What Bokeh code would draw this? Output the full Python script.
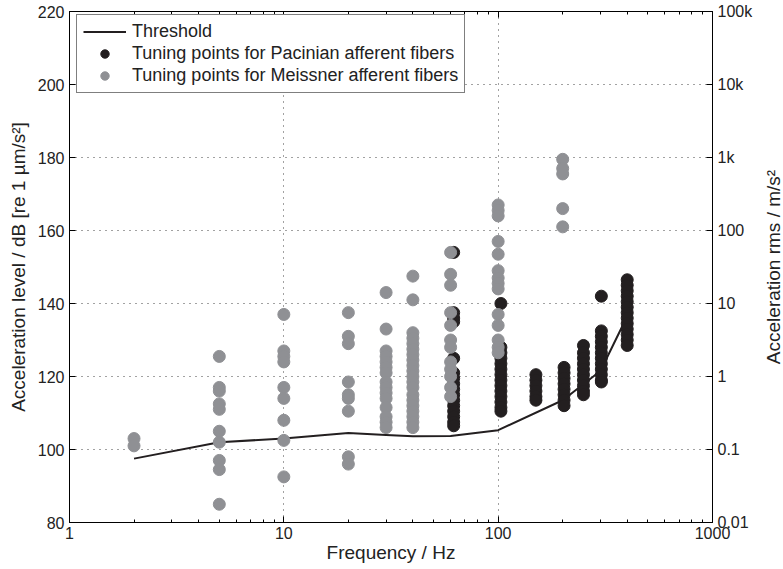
from bokeh.plotting import figure
from bokeh.layouts import row
from bokeh.models import (LogAxis, LinearAxis, FixedTicker, Legend, LegendItem,
                          Range1d)
from bokeh.embed import file_html
from bokeh.resources import INLINE

# ---------------- data ----------------
threshold_freq = [2, 5, 10, 20, 30, 40, 60, 100, 200, 300, 400]
threshold_level = [97.5, 102, 103, 104.5, 104, 103.6, 103.7, 105.3, 113.5, 121.5, 136.5]

meissner_columns = [2, 5, 10, 20, 30, 40, 60, 100, 200]
meissner_levels = [
    [103, 101],
    [125.5, 117, 116, 112.5, 111, 105, 102, 97, 94.5, 85],
    [137, 127, 125.5, 124, 117, 114, 108, 102.5, 92.5],
    [137.5, 131, 129, 118.5, 115, 114, 110.5, 98, 96],
    [143, 133, 127, 125.5, 124, 122.5, 121, 118.5, 117, 115.5, 114, 111.5, 109, 107.5, 106],
    [147.5, 141, 132, 130.5, 129, 127.5, 126, 124.5, 123, 121.5, 120, 118.5, 117, 115,
     113.5, 112, 110.5, 109, 107.5, 106],
    [154, 148, 145, 137.5, 134, 130, 128, 124, 122, 120, 117, 114.5],
    [167, 165.5, 164, 157, 153.5, 149, 147, 145.5, 144, 137, 134, 130, 128, 126.5],
    [179.5, 177, 175.5, 166, 161],
]

pacinian_columns = [62, 103, 150, 203, 250, 303, 400]
pacinian_levels = [
    [154, 137.5, 136, 135, 125, 121, 119.5, 118, 116.5, 115, 113.5, 112, 110.5, 109, 107.5, 106.5],
    [140, 128, 126.5, 125, 123.5, 122, 120.5, 119, 117.5, 116, 114.5, 113, 111.5, 110.5],
    [120.5, 119, 117.5, 116, 114.5, 113.5],
    [122.5, 121, 119.5, 118, 116.5, 115, 113.5, 112],
    [128.5, 126.5, 125, 123.5, 122, 120.5, 119, 117.5, 116, 115],
    [142, 132.5, 131, 129.5, 128, 126.5, 125, 123.5, 122, 120.5, 119, 118.5],
    [146.5, 145, 143.5, 142, 140.5, 139, 137.5, 136, 134.5, 133, 131.5, 130, 128.5],
]

x_ticks = [1, 10, 100, 1000]
x_tick_labels = ["1", "10", "100", "1000"]
y_ticks = [80, 100, 120, 140, 160, 180, 200, 220]
y_right_labels = ["0.01", "0.1", "1", "10", "100", "1k", "10k", "100k"]

# ---------------- build ----------------
def flatten(cols, levels):
    xs, ys = [], []
    for f, lv in zip(cols, levels):
        for v in lv:
            xs.append(f)
            ys.append(v)
    return xs, ys

mx, my = flatten(meissner_columns, meissner_levels)
px, py = flatten(pacinian_columns, pacinian_levels)

FONT = "Liberation Sans"
BLACK = "#231f20"
GRAY = "#8f9094"
TXT = "#222222"

p = figure(frame_width=643, frame_height=511, x_axis_type="log",
           x_range=Range1d(1, 1000), y_range=Range1d(80, 220),
           output_backend="svg", toolbar_location=None,
           min_border_left=69, min_border_right=42, min_border_top=11,
           min_border_bottom=47)
p.outline_line_color = "black"
p.outline_line_width = 1

minor = [m * d for d in (1, 10, 100) for m in range(2, 10)]
xt = FixedTicker(ticks=x_ticks, minor_ticks=minor)
yt = FixedTicker(ticks=y_ticks)

ax = p.xaxis[0]
ax.ticker = xt
ax.major_label_overrides = {t: l for t, l in zip(x_ticks, x_tick_labels)}
ax.axis_label = "Frequency / Hz"

ay = p.yaxis[0]
ay.ticker = yt
ay.axis_label = "Acceleration level / dB [re 1 µm/s²]"

top = LogAxis(ticker=xt)
p.add_layout(top, "above")
right = LinearAxis(ticker=yt,
                   major_label_overrides={t: l for t, l in zip(y_ticks, y_right_labels)})
p.add_layout(right, "right")

for a in [ax, ay, top, right]:
    a.major_tick_in = 6
    a.major_tick_out = 0
    a.minor_tick_in = 3
    a.minor_tick_out = 0
    a.axis_line_color = "black"
    a.major_tick_line_color = "black"
    a.minor_tick_line_color = "black"
    a.major_label_text_font = FONT
    a.major_label_text_font_size = "16px"
    a.major_label_text_color = TXT
    a.axis_label_text_font = FONT
    a.axis_label_text_font_size = "19px"
    a.axis_label_text_font_style = "normal"
    a.axis_label_text_color = TXT
    a.major_label_standoff = 5
top.major_label_text_font_size = "1px"
top.major_label_text_color = None
top.major_label_standoff = 0
ay.minor_tick_line_color = None
right.minor_tick_line_color = None
ay.axis_label_standoff = 6
ax.major_label_standoff = 4
ax.axis_label_standoff = 0

p.xgrid.ticker = FixedTicker(ticks=[10, 100])
p.ygrid.ticker = FixedTicker(ticks=[100, 120, 140, 160, 180, 200])
for g in [p.xgrid[0], p.ygrid[0]]:
    g.grid_line_color = "#444444"
    g.grid_line_dash = "1 5"
    g.grid_line_width = 1

line = p.line(threshold_freq, threshold_level, line_color=BLACK, line_width=2)
pac = p.scatter(px, py, size=12, fill_color=BLACK, line_color=BLACK)
mei = p.scatter(mx, my, size=12, fill_color=GRAY, line_color=GRAY)

legend = Legend(items=[
    LegendItem(label="Threshold", renderers=[line]),
    LegendItem(label="Tuning points for Pacinian afferent fibers", renderers=[pac]),
    LegendItem(label="Tuning points for Meissner afferent fibers", renderers=[mei]),
], location=(7, 429))
legend.margin = 0
legend.padding = 6
legend.spacing = 1
legend.glyph_width = 43
legend.glyph_height = 21
legend.label_standoff = 6
legend.label_height = 21
legend.label_text_font = FONT
legend.label_text_font_size = "18px"
legend.label_text_color = TXT
legend.border_line_color = "black"
legend.border_line_width = 1
legend.background_fill_alpha = 1
p.add_layout(legend)

# narrow companion panel carrying the right-hand title (reads bottom-to-top)
p2 = figure(frame_width=1, frame_height=511, x_range=Range1d(0, 1),
            y_range=Range1d(80, 220), output_backend="svg", toolbar_location=None,
            min_border_left=28, min_border_right=0, min_border_top=11,
            min_border_bottom=47, x_axis_location=None)
p2.outline_line_color = None
p2.grid.visible = False
t = p2.yaxis[0]
t.ticker = FixedTicker(ticks=[150])
t.axis_label = "Acceleration rms / m/s²"
t.axis_line_color = None
t.major_tick_line_color = None
t.minor_tick_line_color = None
t.major_tick_in = 0
t.major_tick_out = 0
t.major_label_text_font_size = "1px"
t.major_label_text_color = None
t.major_label_standoff = 0
t.axis_label_standoff = 0
t.axis_label_text_font = FONT
t.axis_label_text_font_size = "19px"
t.axis_label_text_font_style = "normal"
t.axis_label_text_color = TXT

layout = row(p, p2)
open("out.html", "w").write(file_html(layout, INLINE))
